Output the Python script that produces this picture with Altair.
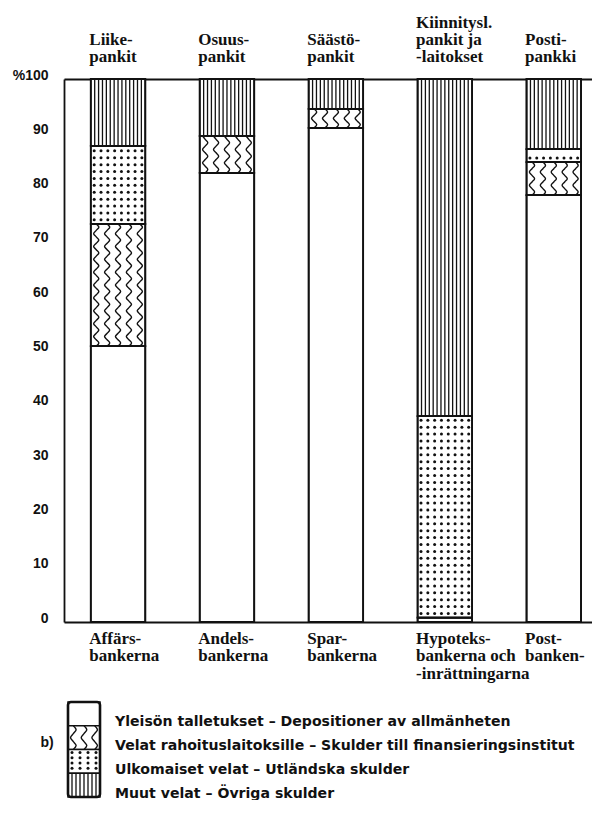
import json
import pandas as pd
import altair as alt

# ---------------- data ----------------
banks_fi = ["Liike-|pankit", "Osuus-|pankit", "Säästö-|pankit",
            "Kiinnitysl.|pankit ja|-laitokset", "Posti-|pankki"]
banks_sv = ["Affärs-|bankerna", "Andels-|bankerna", "Spar-|bankerna",
            "Hypoteks-|bankerna och|-inrättningarna", "Post-|banken-"]
components = ["Yleisön talletukset", "Velat rahoituslaitoksille",
              "Ulkomaiset velat", "Muut velat"]
legend_labels = [
    "Yleisön talletukset  –  Depositioner av allmänheten",
    "Velat rahoituslaitoksille  –  Skulder till finansieringsinstitut",
    "Ulkomaiset velat  –  Utländska skulder",
    "Muut  velat  –  Övriga skulder",
]
deposits = [50.8, 82.7, 91.0, 0.8, 78.6]
fin_inst = [22.5, 6.8, 3.5, 0.0, 6.1]
foreign = [14.4, 0.0, 0.0, 37.1, 2.4]
other = [12.3, 10.5, 5.5, 62.1, 12.9]
y_ticks = list(range(0, 101, 10))
patterns = ["blank", "wave", "dots", "stripes"]

# ---------------- layout / style ----------------
INK = "#111111"
PXX = 108.94            # pixels per category step
W, H = 528, 543
X0 = -0.496
X_DOM = [X0, X0 + W / PXX]
PXY = H / 100.0
HALF = 0.25

series = [deposits, fin_inst, foreign, other]
seg_rows = []
for i in range(len(banks_fi)):
    base = 0.0
    for k, s in enumerate(series):
        v = s[i]
        if v > 0:
            seg_rows.append({"bank": i, "comp": components[k], "pat": patterns[k],
                             "x0": i - HALF, "x1": i + HALF, "y0": base, "y1": base + v})
        base += v
main_seg = pd.DataFrame(seg_rows)

leg_seg = pd.DataFrame([{"comp": components[k], "pat": patterns[k],
                         "x0": 0.0, "x1": 1.0, "y0": float(k), "y1": float(k + 1)}
                        for k in range(len(components))])


def make_patterns(segs, pxx, pxy, stripe_gap, dot_cols, dot_step, wave_cols, period, amp):
    st, dt, wv = [], [], []
    for n, r in segs.iterrows():
        x0, x1, y0, y1 = r["x0"], r["x1"], r["y0"], r["y1"]
        lo, hi = min(y0, y1), max(y0, y1)
        if r["pat"] == "stripes":
            cnt = max(1, int(round((x1 - x0) * pxx / stripe_gap)) - 1)
            for k in range(1, cnt + 1):
                st.append({"x": x0 + (x1 - x0) * k / (cnt + 1), "y": lo, "y2": hi})
        elif r["pat"] == "dots":
            step = dot_step / pxy
            yy = lo + step * 0.6
            while yy < hi - step * 0.3:
                for c in range(dot_cols):
                    dt.append({"x": x0 + (x1 - x0) * (c + 0.5) / dot_cols, "y": yy})
                yy += step
        elif r["pat"] == "wave":
            q = period / 4.0 / pxy
            a = amp / pxx
            m_n = max(2, int(round((hi - lo) / q)))
            q = (hi - lo) / m_n
            shape = [0, 1, 0, -1]
            for c in range(wave_cols):
                cx = x0 + (x1 - x0) * (c + 0.5) / wave_cols
                for m in range(m_n + 1):
                    wv.append({"x": cx + a * shape[m % 4], "y": lo + m * q,
                               "g": f"{n}-{c}", "s": m})
    return pd.DataFrame(st), pd.DataFrame(dt), pd.DataFrame(wv)


m_st, m_dt, m_wv = make_patterns(main_seg, PXX, PXY, 3.9, 8, 6.9, 5, 13.0, 2.6)
LPX, LPY = 32.0, 23.75
l_st, l_dt, l_wv = make_patterns(leg_seg, LPX, LPY, 4.0, 4, 5.2, 3, 16.0, 2.8)

# ---------------- axes ----------------
top_padded = []
for lab in banks_fi:
    parts = lab.split("|")
    top_padded.append("|".join([""] * (3 - len(parts)) + parts))
top_expr = "split(" + json.dumps(top_padded, ensure_ascii=False) + "[datum.value], '|')"
bot_expr = "split(" + json.dumps(banks_sv, ensure_ascii=False) + "[datum.value], '|')"

common_x = dict(values=list(range(len(banks_fi))), title=None, ticks=False, tickSize=0,
                domain=True, domainColor=INK, domainWidth=1.8, grid=False,
                labelFont="Liberation Serif",
                labelFontWeight="bold", labelFontSize=17, labelColor=INK,
                labelAlign="left", labelBaseline="alphabetic",
                labelOffset=-(HALF * PXX) - 2, labelOverlap=False,
                labelFlush=False, labelBound=False)
x_bottom = alt.Axis(orient="bottom", labelExpr=bot_expr, labelPadding=21,
                    labelLineHeight=17.6, **common_x)
x_top = alt.Axis(orient="top", labelExpr=top_expr, labelPadding=52,
                 labelLineHeight=17.4, **common_x)
y_axis = alt.Axis(orient="left", values=y_ticks, title=None, ticks=False, tickSize=0,
                  domain=True, domainColor=INK, domainWidth=1.8, grid=False,
                  labelFont="Liberation Sans",
                  labelFontWeight="bold", labelFontSize=14, labelColor=INK,
                  labelPadding=16, labelBaseline="alphabetic", labelOverlap=False,
                  labelExpr="datum.value == 100 ? '%100' : datum.label")


def xs():
    return alt.Scale(domain=X_DOM, nice=False, zero=False)


def ys():
    return alt.Scale(domain=[0, 100], nice=False, zero=False)


bars = alt.Chart(main_seg).mark_rect(fill="white", stroke=INK, strokeWidth=1.7).encode(
    x=alt.X("x0:Q", scale=xs(), axis=x_bottom), x2="x1:Q",
    y=alt.Y("y0:Q", scale=ys(), axis=y_axis), y2="y1:Q")
stripes_ch = alt.Chart(m_st).mark_rule(color=INK, strokeWidth=1.3).encode(
    x=alt.X("x:Q", scale=xs(), axis=x_top),
    y=alt.Y("y:Q", scale=ys(), axis=None), y2="y2:Q")
dots_ch = alt.Chart(m_dt).mark_circle(color=INK, size=9, opacity=1).encode(
    x=alt.X("x:Q", scale=xs(), axis=None), y=alt.Y("y:Q", scale=ys(), axis=None))
waves_ch = alt.Chart(m_wv).mark_line(color=INK, strokeWidth=1.4, interpolate="cardinal").encode(
    x=alt.X("x:Q", scale=xs(), axis=None), y=alt.Y("y:Q", scale=ys(), axis=None),
    detail="g:N", order="s:Q")
outline = alt.Chart(main_seg).mark_rect(fillOpacity=0, stroke=INK, strokeWidth=1.8).encode(
    x=alt.X("x0:Q", scale=xs(), axis=None), x2="x1:Q",
    y=alt.Y("y0:Q", scale=ys(), axis=None), y2="y1:Q")

# ---------------- legend (below the plot) ----------------
def lxs():
    return alt.Scale(domain=[0, 1], range=[4, 36], nice=False, zero=False)


def lys():
    return alt.Scale(domain=[0, 4], range=[623, 718], nice=False, zero=False)


leg_cells = alt.Chart(leg_seg).mark_rect(fill="white", stroke=INK, strokeWidth=1.5).encode(
    x=alt.X("x0:Q", scale=lxs(), axis=None), x2="x1:Q",
    y=alt.Y("y0:Q", scale=lys(), axis=None), y2="y1:Q")
leg_st = alt.Chart(l_st).mark_rule(color=INK, strokeWidth=1.3).encode(
    x=alt.X("x:Q", scale=lxs(), axis=None), y=alt.Y("y:Q", scale=lys(), axis=None), y2="y2:Q")
leg_dt = alt.Chart(l_dt).mark_circle(color=INK, size=9, opacity=1).encode(
    x=alt.X("x:Q", scale=lxs(), axis=None), y=alt.Y("y:Q", scale=lys(), axis=None))
leg_wv = alt.Chart(l_wv).mark_line(color=INK, strokeWidth=1.4, interpolate="cardinal").encode(
    x=alt.X("x:Q", scale=lxs(), axis=None), y=alt.Y("y:Q", scale=lys(), axis=None),
    detail="g:N", order="s:Q")
leg_frame_df = pd.DataFrame([{"x0": leg_seg["x0"].min(), "x1": leg_seg["x1"].max(),
                              "y0": leg_seg["y0"].min(), "y1": leg_seg["y1"].max()}])
leg_frame = alt.Chart(leg_frame_df).mark_rect(fillOpacity=0, stroke=INK, strokeWidth=2.6,
                                              cornerRadius=3).encode(
    x=alt.X("x0:Q", scale=lxs(), axis=None), x2="x1:Q",
    y=alt.Y("y0:Q", scale=lys(), axis=None), y2="y1:Q")
leg_txt_df = pd.DataFrame({"label": legend_labels,
                           "yc": [k + 0.5 for k in range(len(legend_labels))]})
leg_text = alt.Chart(leg_txt_df).mark_text(
    align="left", baseline="middle", dy=8.5, font="DejaVu Sans", fontWeight="bold",
    fontSize=14.1, color=INK).encode(
    x=alt.value(51), y=alt.Y("yc:Q", scale=lys(), axis=None), text="label:N")
b_text = alt.Chart(pd.DataFrame({"t": ["b)"]})).mark_text(
    align="center", baseline="middle", font="Liberation Sans", fontWeight="bold",
    fontSize=14, color=INK).encode(x=alt.value(-17), y=alt.value(664), text="t:N")

chart = alt.layer(
    bars, stripes_ch, dots_ch, waves_ch, outline,
    leg_cells, leg_st, leg_dt, leg_wv, leg_frame, leg_text, b_text,
).resolve_scale(x="independent", y="independent").resolve_axis(
    x="independent", y="independent").properties(
    width=W, height=H, background="white",
    autosize=alt.AutoSizeParams(type="none"),
    padding={"left": 56, "top": 71, "right": 0, "bottom": 178},
).configure_view(strokeWidth=0)

chart.save("out.html", embed_options={"renderer": "svg", "actions": False})
